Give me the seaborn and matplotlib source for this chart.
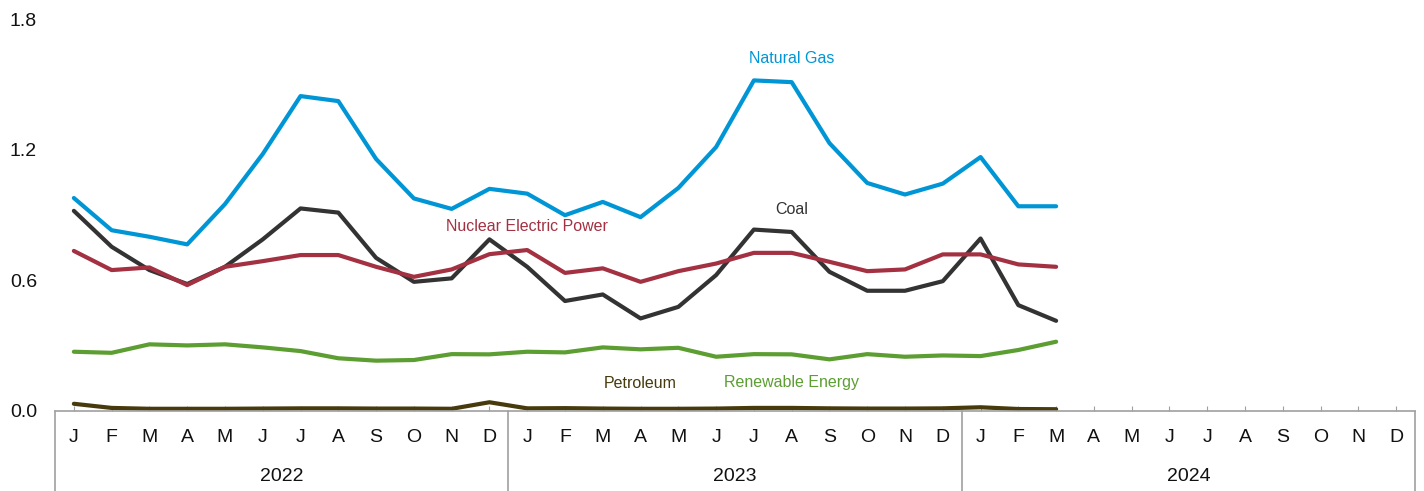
import numpy as np
import pandas as pd
import matplotlib
matplotlib.use("Agg")
import matplotlib.pyplot as plt
import matplotlib.transforms as mtransforms
import seaborn as sns

months = ["J", "F", "M", "A", "M", "J", "J", "A", "S", "O", "N", "D"]
years = ["2022", "2023", "2024"]

natural_gas = [0.978, 0.830, 0.800, 0.765, 0.950, 1.180, 1.446, 1.423, 1.157, 0.976, 0.928, 1.020,
               0.998, 0.899, 0.960, 0.890, 1.024, 1.212, 1.518, 1.510, 1.230, 1.047, 0.994, 1.044,
               1.166, 0.940, 0.940]
coal = [0.919, 0.754, 0.647, 0.583, 0.662, 0.788, 0.930, 0.911, 0.703, 0.593, 0.609, 0.788,
        0.662, 0.505, 0.535, 0.425, 0.478, 0.624, 0.833, 0.822, 0.639, 0.552, 0.552, 0.596,
        0.792, 0.486, 0.414]
nuclear = [0.735, 0.647, 0.659, 0.578, 0.662, 0.688, 0.716, 0.716, 0.662, 0.616, 0.650, 0.720,
           0.739, 0.634, 0.655, 0.593, 0.642, 0.677, 0.726, 0.726, 0.685, 0.642, 0.650, 0.719,
           0.719, 0.673, 0.662]
renewable = [0.272, 0.267, 0.306, 0.301, 0.306, 0.292, 0.275, 0.242, 0.231, 0.234, 0.261, 0.260,
             0.272, 0.269, 0.292, 0.283, 0.290, 0.249, 0.261, 0.260, 0.237, 0.261, 0.249, 0.255,
             0.252, 0.280, 0.318]
petroleum = [0.033, 0.014, 0.010, 0.010, 0.010, 0.011, 0.012, 0.012, 0.011, 0.011, 0.010, 0.040,
             0.012, 0.013, 0.011, 0.010, 0.010, 0.011, 0.014, 0.014, 0.012, 0.011, 0.011, 0.012,
             0.017, 0.009, 0.008]

series = {
    "Natural Gas": natural_gas,
    "Coal": coal,
    "Nuclear Electric Power": nuclear,
    "Renewable Energy": renewable,
    "Petroleum": petroleum,
}
colors = {
    "Natural Gas": "#0096D6",
    "Coal": "#333333",
    "Nuclear Electric Power": "#A33142",
    "Renewable Energy": "#5C9E32",
    "Petroleum": "#473A0C",
}

rows = []
for name, vals in series.items():
    for i, v in enumerate(vals):
        rows.append({"idx": i, "value": v, "series": name})
df = pd.DataFrame(rows)

sns.set_theme(style="white")
plt.rcParams["font.family"] = ["Liberation Sans", "DejaVu Sans"]

fig = plt.figure(figsize=(14.24, 4.91), dpi=100)
ax = fig.add_axes([0.0386, 0.163, 0.9551, 0.7983])

sns.lineplot(data=df, x="idx", y="value", hue="series", palette=colors,
             linewidth=3.0, ax=ax, legend=False, sort=False)

ax.set_xlim(-0.5, 35.5)
ax.set_ylim(0, 1.8)
ax.set_xlabel("")
ax.set_ylabel("")

ax.set_yticks([0.0, 0.6, 1.2, 1.8])
ax.set_yticklabels(["0.0", "0.6", "1.2", "1.8"])
ax.tick_params(axis="y", length=0, pad=13, labelsize=14, labelcolor="#111111")

ax.set_xticks(np.arange(36))
ax.set_xticklabels(months * 3)
ax.tick_params(axis="x", direction="in", length=3.5, width=0.8, color="#A0A0A0",
               pad=13, labelsize=14, labelcolor="#111111", bottom=True)

for s in ["top", "right", "left"]:
    ax.spines[s].set_visible(False)
ax.spines["bottom"].set_color("#A0A0A0")
ax.spines["bottom"].set_linewidth(1.2)

trans = mtransforms.blended_transform_factory(ax.transData, ax.transAxes)
for xb in [-0.5, 11.5, 23.5, 35.5]:
    ax.plot([xb, xb], [0, -0.21], transform=trans, color="#A0A0A0",
            linewidth=1.2, clip_on=False)
for k, yr in enumerate(years):
    ax.text(5.5 + 12 * k, -0.168, yr, transform=trans,
            ha="center", va="center", fontsize=14, color="#111111")

ax.text(19.0, 1.617, "Natural Gas", color=colors["Natural Gas"], fontsize=11.5,
        ha="center", va="center")
ax.text(19.0, 0.924, "Coal", color=colors["Coal"], fontsize=11.5, ha="center", va="center")
ax.text(12.0, 0.846, "Nuclear Electric Power", color=colors["Nuclear Electric Power"],
        fontsize=11.5, ha="center", va="center")
ax.text(15.0, 0.124, "Petroleum", color=colors["Petroleum"], fontsize=11.5,
        ha="center", va="center")
ax.text(19.0, 0.129, "Renewable Energy", color=colors["Renewable Energy"], fontsize=11.5,
        ha="center", va="center")

fig.savefig("out.png", dpi=100)
